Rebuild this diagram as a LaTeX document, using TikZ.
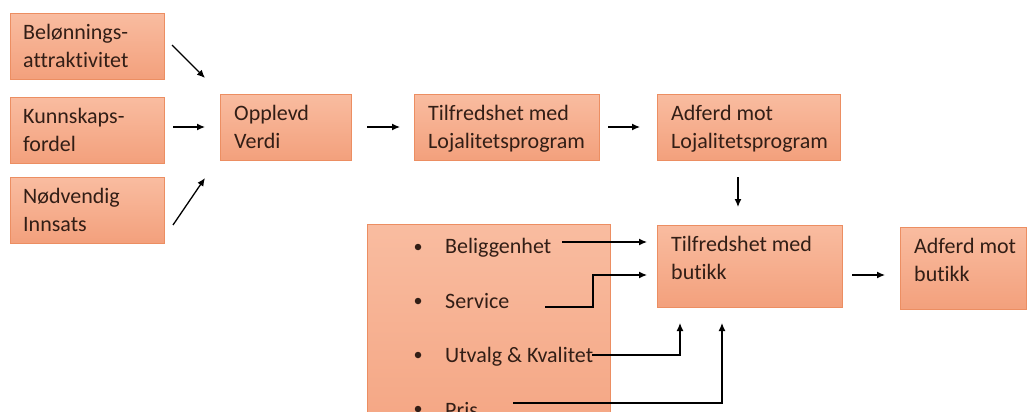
\documentclass[tikz,border=0pt]{standalone}
\usepackage{fontspec}
\setmainfont{Carlito}[Ligatures={NoCommon}]
\usetikzlibrary{arrows.meta,calc}
\definecolor{boxtop}{RGB}{249,188,160}
\definecolor{boxbot}{RGB}{243,160,124}
\definecolor{boxline}{RGB}{236,142,98}
\definecolor{ink}{RGB}{50,30,22}
\begin{document}
\begin{tikzpicture}[x=1pt,y=-1pt,
  box/.style={draw=boxline, line width=1pt, top color=boxtop, bottom color=boxbot,
    inner sep=0pt, anchor=north west},
  lbl/.style={anchor=north west, inner sep=0pt, align=left,
    font=\fontsize{22}{28}\selectfont, text=ink},
  item/.style={anchor=base west, inner sep=0pt, font=\fontsize{22}{28}\selectfont, text=ink},
  dot/.style={circle, fill=ink, inner sep=0pt, minimum size=6.5pt},
  arr/.style={-{Latex[length=8pt,width=7pt]}, line width=1.3pt, black}]
\useasboundingbox (0,0) rectangle (1029,412);
\clip (0,0) rectangle (1029,412);

% boxes
\node[box, minimum width=154, minimum height=66] (b1) at (10,13) {};
\node[box, minimum width=154, minimum height=66] (b2) at (10,97) {};
\node[box, minimum width=154, minimum height=66] (b3) at (10,177) {};
\node[box, minimum width=131, minimum height=66] (ov) at (220,94) {};
\node[box, minimum width=185, minimum height=66] (tl) at (414,94) {};
\node[box, minimum width=183, minimum height=66] (al) at (657,94) {};
\node[box, minimum width=185, minimum height=82] (tb) at (657,225) {};
\node[box, minimum width=126, minimum height=82] (ab) at (900,227) {};
\node[box, minimum width=243, minimum height=260] (list) at (367,224) {};

% box labels
\node[lbl] (t1) at ($(b1.north west)+(13,11)$) {Belønnings-\\attraktivitet};
\node[lbl] (t2) at ($(b2.north west)+(13,11)$) {Kunnskaps-\\fordel};
\node[lbl] (t3) at ($(b3.north west)+(13,11)$) {Nødvendig\\Innsats};
\node[lbl] (tov) at ($(ov.north west)+(14,11)$) {Opplevd\\Verdi};
\node[lbl] (ttl) at ($(tl.north west)+(14,11)$) {Tilfredshet med\\Lojalitetsprogram};
\node[lbl] (tal) at ($(al.north west)+(14,11)$) {Adferd mot\\Lojalitetsprogram};
\node[lbl] (ttb) at ($(tb.north west)+(14,11)$) {Tilfredshet med\\butikk};
\node[lbl] (tab) at ($(ab.north west)+(14,11)$) {Adferd mot\\butikk};

% bullet list
\node[dot] (d1) at (418,247) {};
\node[dot] (d2) at (418,301) {};
\node[dot] (d3) at (418,355) {};
\node[dot] (d4) at (418,409) {};
\node[item] (bel) at (445,253) {Beliggenhet};
\node[item] (ser) at (445,308) {Service};
\node[item] (utv) at (445,362) {Utvalg \& Kvalitet};
\node[item] (pris) at (445,417) {Pris};

% free arrow ends
\coordinate (a1s) at (172,45);  \coordinate (a1e) at (205,78);
\coordinate (a2s) at (173,127); \coordinate (a2e) at (205,127);
\coordinate (a3s) at (173,225); \coordinate (a3e) at (205,178);
\coordinate (a4s) at (367,127); \coordinate (a4e) at (400,127);
\coordinate (a5s) at (608,127); \coordinate (a5e) at (640,127);
\coordinate (a6s) at (738,177); \coordinate (a6e) at (738,207);
\coordinate (a7s) at (852,275); \coordinate (a7e) at (885,275);
\coordinate (belS) at (562,242); \coordinate (belE) at (647,242);
\coordinate (serS) at (545,307); \coordinate (serK) at (593,275); \coordinate (serE) at (647,275);
\coordinate (utvS) at (592,355); \coordinate (utvE) at (680,323);
\coordinate (prisS) at (513,403); \coordinate (prisE) at (722,323);

% connectors
\draw[arr] (a1s) -- (a1e);
\draw[arr] (a2s) -- (a2e);
\draw[arr] (a3s) -- (a3e);
\draw[arr] (a4s) -- (a4e);
\draw[arr] (a5s) -- (a5e);
\draw[arr] (a6s) -- (a6e);
\draw[arr] (a7s) -- (a7e);
\draw[arr] (belS) -- (belE);
\draw[arr] (serS) -| (serK) -- (serE);
\draw[arr] (utvS) -| (utvE);
\draw[arr] (prisS) -| (prisE);
\end{tikzpicture}
\end{document}
